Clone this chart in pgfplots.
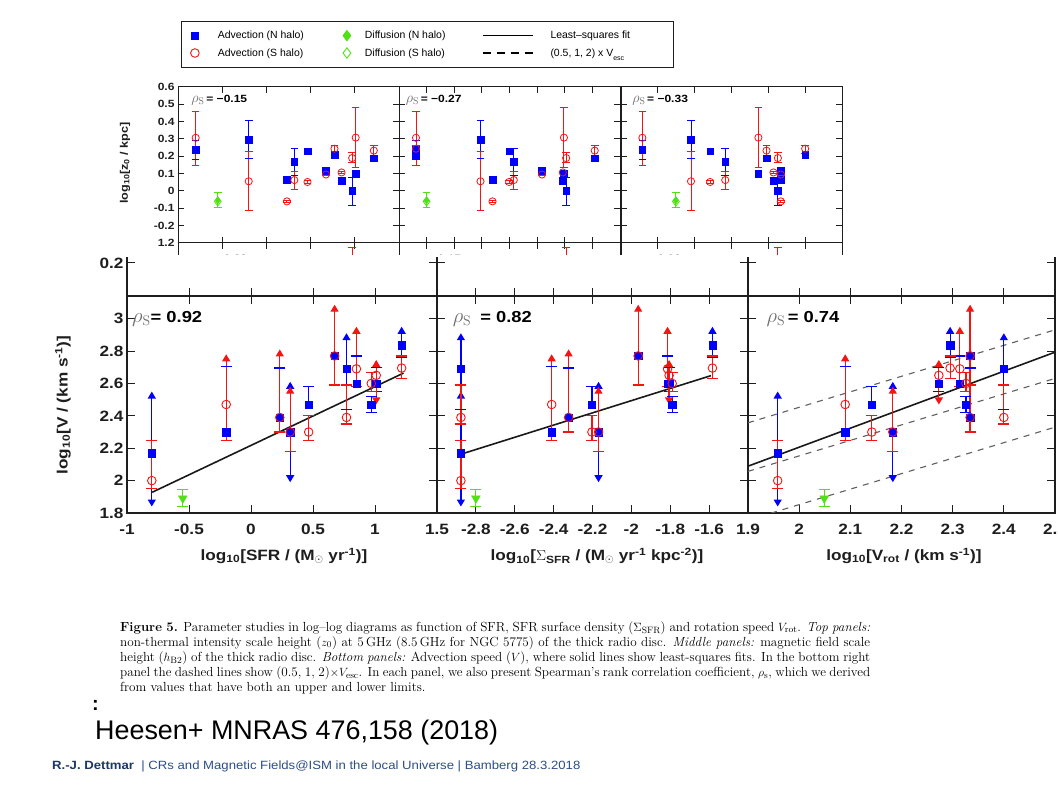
\documentclass[border=0pt]{standalone}
\usepackage{pgfplots}
\pgfplotsset{compat=1.18}
\usepackage{pgfplotstable}
\usepackage{fontspec}
\usetikzlibrary{arrows.meta}

\newfontfamily\axf[FakeStretch=1.15]{Liberation Sans}
\newfontfamily\slf{Liberation Sans}
\newfontfamily\slw[FakeStretch=1.1]{Liberation Sans}

\definecolor{advN}{RGB}{0,0,255}
\definecolor{advS}{RGB}{245,20,20}
\definecolor{difG}{RGB}{80,225,20}
\definecolor{axc}{RGB}{30,30,30}
\definecolor{rhoc}{RGB}{110,110,110}
\definecolor{escc}{RGB}{95,95,95}
\definecolor{navy}{RGB}{30,55,100}
\definecolor{footc}{RGB}{45,78,135}

%% x columns: sfr = log10 SFR, ssfr = log10 Sigma_SFR, vrot = log10 V_rot
%% ---------- advection speed log10 V, north halo ----------
\pgfplotstableread{
sfr    ssfr    vrot   y
-0.800 -2.877  1.958  2.170
-0.200 -2.410  2.090  2.300
 0.232 -2.323  2.334  2.390
 0.316 -2.169  2.183  2.300
 0.465 -2.203  2.142  2.470
 0.674 -1.965  2.334  2.770
 0.770 -2.877  2.400  2.690
 0.850 -1.814  2.314  2.600
 0.970 -1.790  2.326  2.470
 1.010 -1.806  2.273  2.600
 1.215 -1.583  2.295  2.835
}\VNpts
% bounded errors: bar from y to e, capped at e
\pgfplotstableread{
sfr    ssfr    vrot   y      e
-0.200 -2.410  2.090  2.300  2.705
 0.232 -2.323  2.334  2.390  2.695
 0.465 -2.203  2.142  2.470  2.580
 0.850 -1.814  2.314  2.600  2.770
 0.970 -1.790  2.326  2.470  2.520
 1.010 -1.806  2.273  2.600  2.700
 0.770 -2.877  2.400  2.690  2.440
 0.970 -1.790  2.326  2.470  2.420
 1.010 -1.806  2.273  2.600  2.550
 1.215 -1.583  2.295  2.835  2.760
}\VNcap
% limits: arrow from y to e
\pgfplotstableread{
sfr    ssfr    vrot   y      e
-0.800 -2.877  1.958  2.170  2.550
-0.800 -2.877  1.958  2.170  1.840
 0.316 -2.169  2.183  2.300  2.610
 0.316 -2.169  2.183  2.300  1.990
 0.770 -2.877  2.400  2.690  2.910
 1.215 -1.583  2.295  2.835  2.950
}\VNlim
%% ---------- advection speed, south halo ----------
\pgfplotstableread{
sfr    ssfr    vrot   y
-0.800 -2.877  1.958  2.000
-0.200 -2.410  2.090  2.470
 0.232 -2.323  2.334  2.390
 0.316 -2.169  2.183  2.300
 0.465 -2.203  2.142  2.300
 0.674 -1.965  2.334  2.770
 0.770 -2.877  2.400  2.390
 0.850 -1.814  2.314  2.690
 0.970 -1.790  2.326  2.600
 1.010 -1.806  2.273  2.650
 1.215 -1.583  2.295  2.695
}\VSpts
\pgfplotstableread{
sfr    ssfr    vrot   y      e
-0.800 -2.877  1.958  2.000  2.250
 0.465 -2.203  2.142  2.300  2.400
 0.770 -2.877  2.400  2.390  2.590
 0.970 -1.790  2.326  2.600  2.670
 1.215 -1.583  2.295  2.695  2.770
-0.800 -2.877  1.958  2.000  1.950
-0.200 -2.410  2.090  2.470  2.250
 0.232 -2.323  2.334  2.390  2.300
 0.316 -2.169  2.183  2.300  2.180
 0.465 -2.203  2.142  2.300  2.250
 0.674 -1.965  2.334  2.770  2.590
 0.770 -2.877  2.400  2.390  2.350
 0.850 -1.814  2.314  2.690  2.580
 0.970 -1.790  2.326  2.600  2.550
 1.215 -1.583  2.295  2.695  2.630
}\VScap
\pgfplotstableread{
sfr    ssfr    vrot   y      e
-0.200 -2.410  2.090  2.470  2.780
 0.232 -2.323  2.334  2.390  2.810
 0.316 -2.169  2.183  2.300  2.580
 0.674 -1.965  2.334  2.770  3.086
 0.850 -1.814  2.314  2.690  2.950
 1.010 -1.806  2.273  2.650  2.745
 1.010 -1.806  2.273  2.650  2.470
}\VSlim
% diffusion galaxy (upper limit)
\pgfplotstableread{
sfr    ssfr    vrot   y      ep     em
-0.550 -2.800  2.049  1.890  0.055  0.050
}\VDpts

%% ---------- scale height log10 z0 ----------
\pgfplotstableread{
sfr    ssfr    vrot   y
-0.800 -2.877  1.958  0.238
-0.200 -2.410  2.090  0.296
 0.232 -2.323  2.334  0.065
 0.316 -2.169  2.183  0.170
 0.465 -2.203  2.142  0.229
 0.674 -1.965  2.334  0.118
 0.770 -2.877  2.400  0.211
 0.850 -1.814  2.314  0.058
 0.970 -1.790  2.326  0.002
 1.010 -1.806  2.273  0.100
 1.215 -1.583  2.295  0.190
}\ZNpts
\pgfplotstableread{
sfr    ssfr    vrot   y      ep     em
-0.800 -2.877  1.958  0.238  0.052  0.058
-0.200 -2.410  2.090  0.296  0.112  0.110
 0.316 -2.169  2.183  0.170  0.078  0.080
 0.970 -1.790  2.326  0.002  0.078  0.087
}\ZNerr
\pgfplotstableread{
sfr    ssfr    vrot   y      ep     em
-0.800 -2.877  1.958  0.307  0.153  0.157
-0.200 -2.410  2.090  0.056  0.173  0.168
 0.232 -2.323  2.334 -0.060  0.008  0.008
 0.316 -2.169  2.183  0.063  0.050  0.053
 0.465 -2.203  2.142  0.052  0.008  0.008
 0.674 -1.965  2.334  0.095  0.008  0.008
 0.770 -2.877  2.400  0.244  0.021  0.029
 0.850 -1.814  2.314  0.107  0.008  0.008
 0.970 -1.790  2.326  0.190  0.030  0.025
 1.010 -1.806  2.273  0.308  0.172  0.173
 1.215 -1.583  2.295  0.233  0.027  0.028
}\ZSpts
\pgfplotstableread{
sfr    ssfr    vrot   y      ys     ep     em
-0.550 -2.800  2.049 -0.055 -0.060  0.045  0.040
}\ZDpts
% middle row (h_B2), mostly hidden: one south-halo bar
\pgfplotstableread{
sfr    ssfr    vrot   y      e
 0.970 -1.790  2.326  1.000  1.176
}\HScap

%% ---------- drawing helpers ----------
% #1 x column, #2 colour, #3 table, #4 cap half-width, #5 line width
\newcommand\barCap[5]{%
  \addplot[#2, forget plot, line width=#5, quiver={u=0, v=\thisrow{e}-\thisrow{y}}]
    table[x=#1, y=y] {#3};
  \addplot[#2, forget plot, only marks, mark=-, mark size=#4, mark options={solid, line width=#5}]
    table[x=#1, y=e] {#3};}
\newcommand\barsBoth[5]{%
  \addplot[#2, forget plot, line width=#5, quiver={u=0, v=\thisrow{ep}+\thisrow{em}}]
    table[x=#1, y expr=\thisrow{y}-\thisrow{em}] {#3};
  \addplot[#2, forget plot, only marks, mark=-, mark size=#4, mark options={solid, line width=#5}]
    table[x=#1, y expr=\thisrow{y}+\thisrow{ep}] {#3};
  \addplot[#2, forget plot, only marks, mark=-, mark size=#4, mark options={solid, line width=#5}]
    table[x=#1, y expr=\thisrow{y}-\thisrow{em}] {#3};}
\newcommand\limArr[3]{%
  \addplot[#2, forget plot, line width=1.2pt,
    -{Triangle[width=8bp,length=7bp]},
    quiver={u=0, v=\thisrow{e}-\thisrow{y}}]
    table[x=#1, y=y] {#3};}

\newcommand\Vpanel[1]{%
  \limArr{#1}{advN}{\VNlim}
  \barCap{#1}{advN}{\VNcap}{5.5bp}{1.2pt}
  \limArr{#1}{advS}{\VSlim}
  \barCap{#1}{advS}{\VScap}{5.5bp}{1.2pt}
  \barsBoth{#1}{difG}{\VDpts}{5.5bp}{1.2pt}
  \addplot[forget plot, only marks, mark=triangle*, mark size=5bp,
    mark options={rotate=180, draw=difG, fill=difG}] table[x=#1, y=y] {\VDpts};
  \addplot[forget plot, only marks, mark=square*, mark size=3.7bp,
    mark options={draw=advN, fill=advN}] table[x=#1, y=y] {\VNpts};
  \addplot[forget plot, only marks, mark=o, mark size=4.3bp,
    mark options={draw=advS, line width=0.9pt}] table[x=#1, y=y] {\VSpts};
}
\newcommand\Zpanel[1]{%
  \barsBoth{#1}{advN}{\ZNerr}{3.8bp}{0.9pt}
  \barsBoth{#1}{advS}{\ZSpts}{3.8bp}{0.9pt}
  \barsBoth{#1}{difG}{\ZDpts}{3.8bp}{0.9pt}
  \addplot[forget plot, only marks, mark=square*, mark size=3.3bp,
    mark options={draw=advN, fill=advN}] table[x=#1, y=y] {\ZNpts};
  \addplot[forget plot, only marks, mark=o, mark size=3.6bp,
    mark options={draw=advS, line width=0.8pt}] table[x=#1, y=y] {\ZSpts};
  \addplot[forget plot, only marks, mark=diamond*, mark size=3.6bp,
    mark options={draw=difG, fill=difG}] table[x=#1, y=y] {\ZDpts};
  \addplot[forget plot, only marks, mark=diamond, mark size=4.6bp,
    mark options={draw=difG, line width=0.8pt}] table[x=#1, y=ys] {\ZDpts};
}

\newcommand\rhoS[3]{{\color{rhoc}\fontsize{#1}{#1}\selectfont$\rho_{\mathrm{S}}$}{\axf\bfseries\fontsize{#2}{#2}\selectfont #3}}

\pgfplotsset{
  frame/.style={scale only axis, anchor=north west, tick align=inside,
    axis line style={draw=axc, line width=1pt},
    tick style={draw=axc, line width=1pt},
    xticklabels={}, yticklabels={}},
  xsfr/.style={xmin=-1, xmax=1.5, xtick={-1,-0.5,0,0.5,1,1.5}},
  xssfr/.style={xmin=-3, xmax=-1.4, xtick={-3,-2.8,-2.6,-2.4,-2.2,-2,-1.8,-1.6,-1.4}},
  xvrot/.style={xmin=1.9, xmax=2.5, xtick={1.9,2,2.1,2.2,2.3,2.4,2.5}},
  smallticks/.style={ticklabel style={font=\axf\bfseries\fontsize{10.5}{10.5}\selectfont, text=axc}},
  bigticks/.style={ticklabel style={font=\axf\bfseries\fontsize{15}{15}\selectfont, text=axc}},
  ztop/.style={frame, smallticks, width=221bp, height=156bp, ymin=-0.3, ymax=0.6,
    ytick={-0.2,-0.1,0,0.1,0.2,0.3,0.4,0.5,0.6}, major tick length=6bp},
  hmid/.style={frame, smallticks, width=221bp, height=50bp, ymin=0.9, ymax=1.2,
    ytick={1.2}, major tick length=6bp},
  strip/.style={frame, bigticks, height=39bp, ymin=0, ymax=0.236, ytick={0.2},
    major tick length=8bp, axis x line*=bottom, axis y line*=box,
    axis line style={draw=axc, line width=1.2pt}},
  vbot/.style={frame, bigticks, height=217bp, ymin=1.8, ymax=3.14,
    ytick={1.8,2,2.2,2.4,2.6,2.8,3}, major tick length=8bp,
    xticklabel style={yshift=-8bp},
    axis line style={draw=axc, line width=1.2pt}},
  fitline/.style={forget plot, black!90, line width=1.6pt},
  escline/.style={forget plot, escc, line width=1.1pt, dash pattern=on 6bp off 6bp},
  % legend symbols: a marker in a fixed-width cell, or a 50bp line
  legmarkA/.style={legend image code/.code={\path[draw=none, fill=none] (-10bp,-4bp) rectangle (23bp,4bp);
      \draw[##1] plot coordinates {(0bp,0bp)};}},
  legmarkB/.style={legend image code/.code={\path[draw=none, fill=none] (-10bp,-4bp) rectangle (18bp,4bp);
      \draw[##1] plot coordinates {(0bp,0bp)};}},
  legline/.style={legend image code/.code={\path[draw=none, fill=none] (0bp,-4bp) rectangle (68bp,4bp);
      \draw[##1] (0bp,0bp) -- (50bp,0bp);}},
}

\begin{document}
\begin{tikzpicture}
\fill[white] (0,0) rectangle (1058bp,798bp);
\path[use as bounding box] (0,0) rectangle (1058bp,798bp);

%% ===== top row: non-thermal scale height =====
\begin{axis}[ztop, xsfr, at={(178bp,711bp)},
  yticklabels={-0.2,-0.1,0,0.1,0.2,0.3,0.4,0.5,0.6},
  legend columns=3,
  legend style={at={(0.0136,1.423)}, anchor=north west, draw=axc, line width=0.8pt,
    fill=white, inner xsep=3.5bp, inner ysep=9bp, row sep=7bp,
    nodes={inner sep=0pt},
    font=\slf\fontsize{10.5}{12}\selectfont}]
  \addlegendimage{legmarkA, only marks, mark=square*, mark size=3.7bp, mark options={draw=advN, fill=advN}}
  \addlegendentry{\makebox[119bp][l]{Advection (N halo)}}
  \addlegendimage{legmarkB, only marks, mark=diamond*, mark size=5.2bp, mark options={draw=difG, fill=difG}}
  \addlegendentry{\makebox[117bp][l]{Diffusion (N halo)}}
  \addlegendimage{legline, black, line width=1.2pt}
  \addlegendentry{\makebox[119bp][l]{Least–squares fit}}
  \addlegendimage{legmarkA, only marks, mark=o, mark size=4.3bp, mark options={draw=advS, line width=0.9pt}}
  \addlegendentry{\makebox[119bp][l]{Advection (S halo)}}
  \addlegendimage{legmarkB, only marks, mark=diamond, mark size=5.2bp, mark options={draw=difG, line width=0.9pt}}
  \addlegendentry{\makebox[117bp][l]{Diffusion (S halo)}}
  \addlegendimage{legline, black, line width=1.1pt, dash pattern=on 8bp off 6bp}
  \addlegendentry{\makebox[119bp][l]{(0.5, 1, 2) x V\smash{\raisebox{-4bp}{\fontsize{7}{7}\selectfont esc}}}}
  \Zpanel{sfr}
  \node[anchor=west, inner sep=0pt] at (rel axis cs:0.06,0.915) {\rhoS{14}{10.5}{\,= −0.15}};
\end{axis}
\begin{axis}[ztop, xssfr, at={(399bp,711bp)}]
  \Zpanel{ssfr}
  \node[anchor=west, inner sep=0pt] at (rel axis cs:0.03,0.915) {\rhoS{14}{10.5}{\,= −0.27}};
\end{axis}
\begin{axis}[ztop, xvrot, at={(621bp,711bp)}]
  \Zpanel{vrot}
  \node[anchor=west, inner sep=0pt] at (rel axis cs:0.05,0.915) {\rhoS{14}{10.5}{\,= −0.33}};
\end{axis}

%% ===== middle row (magnetic field scale height), upper edge only =====
\begin{axis}[hmid, xsfr, at={(178bp,555bp)}, yticklabels={1.2}]
  \barCap{sfr}{advS}{\HScap}{3.8bp}{0.9pt}
  \node[anchor=west, inner sep=0pt] at (rel axis cs:0.06,0.66) {\rhoS{14}{10.5}{\,= −0.22}};
\end{axis}
\begin{axis}[hmid, xssfr, at={(399bp,555bp)}]
  \barCap{ssfr}{advS}{\HScap}{3.8bp}{0.9pt}
  \node[anchor=west, inner sep=0pt] at (rel axis cs:0.06,0.66) {\rhoS{14}{10.5}{\,= 0.17}};
\end{axis}
\begin{axis}[hmid, xvrot, at={(621bp,555bp)}]
  \barCap{vrot}{advS}{\HScap}{3.8bp}{0.9pt}
  \node[anchor=west, inner sep=0pt] at (rel axis cs:0.05,0.66) {\rhoS{14}{10.5}{\,= 0.02}};
\end{axis}

% lower figure sits on top of the middle row
\fill[white] (40bp,543bp) rectangle (1058bp,205bp);

%% ===== lower edge of the middle row =====
\begin{axis}[strip, xsfr, width=310bp, at={(127bp,541bp)}, yticklabels={0.2}]
  \addplot[draw=none, forget plot] coordinates {(-1,0) (1.5,0)};
\end{axis}
\begin{axis}[strip, xssfr, width=311bp, at={(437bp,541bp)}]
  \addplot[draw=none, forget plot] coordinates {(-3,0) (-1.4,0)};
\end{axis}
\begin{axis}[strip, xvrot, width=307bp, at={(748bp,541bp)}]
  \addplot[draw=none, forget plot] coordinates {(1.9,0) (2.5,0)};
\end{axis}

%% ===== bottom row: advection speed =====
\begin{axis}[vbot, xsfr, width=310bp, at={(127bp,502bp)},
  yticklabels={1.8,2,2.2,2.4,2.6,2.8,3},
  xticklabels={-1,-0.5,0,0.5,1,1.5}]
  \addplot[fitline] coordinates {(-0.797,1.928) (1.23,2.664)};
  \Vpanel{sfr}
  \node[anchor=west, inner sep=0pt] at (rel axis cs:0.016,0.894) {\rhoS{20}{16}{= 0.92}};
\end{axis}
\begin{axis}[vbot, xssfr, width=311bp, at={(437bp,502bp)},
  xticklabels={,-2.8,-2.6,-2.4,-2.2,-2,-1.8,-1.6,}]
  \addplot[fitline] coordinates {(-2.869,2.166) (-1.591,2.648)};
  \Vpanel{ssfr}
  \node[anchor=west, inner sep=0pt] at (rel axis cs:0.05,0.894) {\rhoS{20}{16}{\hspace{9bp}= 0.82}};
\end{axis}
\begin{axis}[vbot, xvrot, width=307bp, at={(748bp,502bp)},
  xticklabels={1.9,2,2.1,2.2,2.3,2.4,2.5}]
  \addplot[escline] coordinates {(1.9,2.357) (2.5,2.931)};
  \addplot[escline] coordinates {(1.9,2.057) (2.5,2.631)};
  \addplot[escline] coordinates {(1.9,1.756) (2.5,2.330)};
  \addplot[fitline] coordinates {(1.9,2.089) (2.5,2.793)};
  \Vpanel{vrot}
  \node[anchor=west, inner sep=0pt] at (rel axis cs:0.06,0.894) {\rhoS{20}{16}{\,= 0.74}};
\end{axis}

%% ===== axis titles =====
\node[rotate=90, text=axc] at (125bp,635bp)
  {\axf\bfseries\fontsize{11}{11}\selectfont log\textsubscript{10}[z\textsubscript{0} / kpc]};
\node[rotate=90, text=axc] at (63bp,393bp)
  {\axf\bfseries\fontsize{15}{15}\selectfont log\textsubscript{10}[V / (km s\textsuperscript{-1})]};
\node[text=axc] at (284bp,242bp)
  {\axf\bfseries\fontsize{15}{15}\selectfont log\textsubscript{10}[SFR / (M\textsubscript{$\odot$} yr\textsuperscript{-1})]};
\node[text=axc] at (597bp,242bp)
  {\axf\bfseries\fontsize{15}{15}\selectfont log\textsubscript{10}[$\Sigma$\textsubscript{SFR} / (M\textsubscript{$\odot$} yr\textsuperscript{-1} kpc\textsuperscript{-2})]};
\node[text=axc] at (904bp,242bp)
  {\axf\bfseries\fontsize{15}{15}\selectfont log\textsubscript{10}[V\textsubscript{rot} / (km s\textsuperscript{-1})]};

%% ===== caption =====
\node[anchor=north west, inner sep=0pt] at (120bp,177bp) {\parbox[t]{750bp}{\fontsize{13.2}{15.2}\selectfont
\textbf{Figure 5.} Parameter studies in log--log diagrams as function of SFR, SFR surface density ($\Sigma_{\mathrm{SFR}}$) and rotation speed $V_{\mathrm{rot}}$. \textit{Top panels:}\linebreak
non-thermal intensity scale height ($z_0$) at 5\,GHz (8.5\,GHz for NGC 5775) of the thick radio disc. \textit{Middle panels:} magnetic field scale\linebreak
height ($h_{\mathrm{B2}}$) of the thick radio disc. \textit{Bottom panels:} Advection speed ($V$), where solid lines show least-squares fits. In the bottom right\linebreak
panel the dashed lines show (0.5, 1, 2)$\times V_{\mathrm{esc}}$. In each panel, we also present Spearman's rank correlation coefficient, $\rho_{\mathrm{s}}$, which we derived\linebreak
from values that have both an upper and lower limits.}};

\node[anchor=base west, inner sep=0pt] at (92bp,87bp) {\slf\bfseries\fontsize{20}{20}\selectfont :};
\node[anchor=base west, inner sep=0pt] at (95bp,58bp) {\slf\fontsize{27}{27}\selectfont Heesen+ MNRAS 476,158 (2018)};
\node[anchor=base west, inner sep=0pt] at (52bp,29bp) {\slw\fontsize{12}{12}\selectfont
  \textcolor{navy}{\textbf{R.-J. Dettmar}}\textcolor{footc}{\ \ | CRs and Magnetic Fields@ISM in the local Universe | Bamberg 28.3.2018}};
\end{tikzpicture}
\end{document}
